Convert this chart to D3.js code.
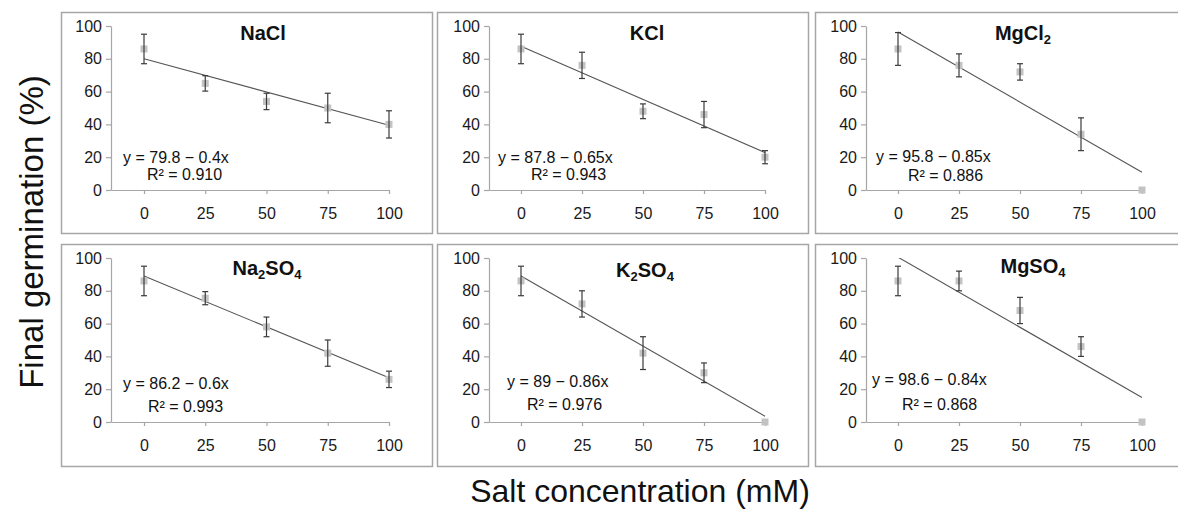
<!DOCTYPE html>
<html><head><meta charset="utf-8">
<script src="https://cdn.jsdelivr.net/npm/d3@7"></script>
<style>
html,body{margin:0;padding:0;background:#fff;}
svg{display:block;font-family:"Liberation Sans",Arial,sans-serif;}
</style></head>
<body><svg id="c" width="1178" height="509"></svg>
<script>
// ---- data ----
const categories = [0, 25, 50, 75, 100];
const yTicks = [0, 20, 40, 60, 80, 100];
const salts = ["NaCl", "KCl", "MgCl2", "Na2SO4", "K2SO4", "MgSO4"];
const meanNaCl   = [86, 65, 54, 50, 40];
const errNaCl    = [9, 4.7, 5, 9, 8.3];
const meanKCl    = [86, 76, 48, 46, 20];
const errKCl     = [9, 8, 4.5, 8, 4];
const meanMgCl2  = [86, 76, 72, 34, 0];
const errMgCl2   = [10, 7, 5, 10, 0];
const meanNa2SO4 = [86, 75.5, 58, 42, 26];
const errNa2SO4  = [9, 4, 6, 8, 5];
const meanK2SO4  = [86, 72, 42, 30, 0];
const errK2SO4   = [9, 8, 10, 6, 0];
const meanMgSO4  = [86, 86, 68, 46, 0];
const errMgSO4   = [9, 6, 8, 6, 0];
// fitted line value at 0 mM and at 100 mM (as drawn)
const trendStart = [80, 87.6, 96.4, 89, 89, 100.5];
const trendEnd   = [39.5, 22.8, 10.8, 27, 3.5, 15];
const equations  = ["y = 79.8 − 0.4x", "y = 87.8 − 0.65x", "y = 95.8 − 0.85x",
                    "y = 86.2 − 0.6x", "y = 89 − 0.86x", "y = 98.6 − 0.84x"];
const r2Labels   = ["R² = 0.910", "R² = 0.943", "R² = 0.886",
                    "R² = 0.993", "R² = 0.976", "R² = 0.868"];
const xTitle = "Salt concentration (mM)";
const yTitle = "Final germination (%)";

const means = [meanNaCl, meanKCl, meanMgCl2, meanNa2SO4, meanK2SO4, meanMgSO4];
const errs  = [errNaCl, errKCl, errMgCl2, errNa2SO4, errK2SO4, errMgSO4];

// ---- layout ----
const colBox = [[61, 432], [437, 808], [815, 1179]];
const rowBox = [[12, 233], [244, 466]];
const colAxisX = [111, 489, 866];   // y-axis position
const colX0 = [144, 521, 898];       // x of 0 mM
const colX100 = [389, 765, 1142];    // x of 100 mM
const rowY0 = [190, 422];
const rowY100 = [26, 258];
const titlePos = [[263, 40], [647, 40], [1023, 40], [267, 275], [645, 277], [1033, 273]];
const eqPos = [[123, 163], [498, 163], [876, 162], [123, 389], [507, 387], [872, 385]];
const r2Pos = [[147, 180], [531, 180], [908, 181], [148, 412], [527, 410], [902, 410]];

const svg = d3.select("#c");
const FONT = '"Liberation Sans",Arial,sans-serif';

salts.forEach((salt, i) => {
  const col = i % 3, row = Math.floor(i / 3);
  const g = svg.append("g");
  // frame
  g.append("rect")
    .attr("x", colBox[col][0] + 0.5).attr("y", rowBox[row][0] + 0.5)
    .attr("width", colBox[col][1] - colBox[col][0]).attr("height", rowBox[row][1] - rowBox[row][0])
    .attr("fill", "#fff").attr("stroke", "#a6a6a6").attr("stroke-width", 1.5);

  const pxPerUnit = (colX100[col] - colX0[col]) / 100;
  const xMin = -(colX0[col] - colAxisX[col]) / pxPerUnit;
  const x = d3.scaleLinear().domain([xMin, 100]).range([colAxisX[col], colX100[col]]);
  const y = d3.scaleLinear().domain([0, 100]).range([rowY0[row], rowY100[row]]);

  // axes
  const ya = g.append("g").attr("transform", `translate(${colAxisX[col]},0)`)
    .call(d3.axisLeft(y).tickValues(yTicks).tickSize(5).tickPadding(4).tickSizeOuter(0));
  const xa = g.append("g").attr("transform", `translate(0,${rowY0[row]})`)
    .call(d3.axisBottom(x).tickValues(categories).tickSize(4).tickPadding(14).tickSizeOuter(0));
  [ya, xa].forEach(a => {
    a.selectAll("path,line").attr("stroke", "#a6a6a6").attr("stroke-width", 1.2);
    a.selectAll("text").attr("fill", "#1a1a1a").style("font-size", "16px").style("font-family", FONT);
  });

  // clip to plot area
  const cid = "clip" + i;
  g.append("clipPath").attr("id", cid).append("rect")
    .attr("x", colAxisX[col]).attr("y", y(100))
    .attr("width", colX100[col] + 20 - colAxisX[col]).attr("height", y(0) - y(100) + 5);

  // trend line
  g.append("line").attr("clip-path", `url(#${cid})`)
    .attr("x1", x(0)).attr("y1", y(trendStart[i]))
    .attr("x2", x(100)).attr("y2", y(trendEnd[i]))
    .attr("stroke", "#555").attr("stroke-width", 1.1);

  const data = categories.map((c, k) => ({c, m: means[i][k], e: errs[i][k]}));
  // markers
  g.selectAll(".pt").data(data).enter().append("rect")
    .attr("x", d => x(d.c) - 3.5).attr("y", d => y(d.m) - 3.5)
    .attr("width", 7).attr("height", 7).attr("fill", "#c3c3c3");
  // error bars
  const eb = g.selectAll(".eb").data(data.filter(d => d.e > 0)).enter().append("g")
    .attr("stroke", "#3a3a3a").attr("stroke-width", 1.2);
  eb.append("line").attr("x1", d => x(d.c)).attr("x2", d => x(d.c))
    .attr("y1", d => y(d.m + d.e)).attr("y2", d => y(d.m - d.e));
  eb.append("line").attr("x1", d => x(d.c) - 3).attr("x2", d => x(d.c) + 3)
    .attr("y1", d => y(d.m + d.e)).attr("y2", d => y(d.m + d.e));
  eb.append("line").attr("x1", d => x(d.c) - 3).attr("x2", d => x(d.c) + 3)
    .attr("y1", d => y(d.m - d.e)).attr("y2", d => y(d.m - d.e));

  // title with subscripts
  const t = g.append("text").attr("x", titlePos[i][0]).attr("y", titlePos[i][1])
    .attr("text-anchor", "middle").style("font-size", "20px").style("font-weight", "bold")
    .style("font-family", FONT).attr("fill", "#111");
  let prevSub = false;
  salt.match(/[A-Za-z]+|\d+/g).forEach(part => {
    if (/\d/.test(part)) {
      t.append("tspan").text(part).style("font-size", "13px").attr("dy", 4);
      prevSub = true;
    } else {
      const ts = t.append("tspan").text(part);
      if (prevSub) ts.attr("dy", -4);
      prevSub = false;
    }
  });

  // equation & R²
  g.append("text").attr("x", eqPos[i][0]).attr("y", eqPos[i][1]).text(equations[i])
    .style("font-size", "16px").style("font-family", FONT).attr("fill", "#111");
  g.append("text").attr("x", r2Pos[i][0]).attr("y", r2Pos[i][1]).text(r2Labels[i])
    .style("font-size", "16px").style("font-family", FONT).attr("fill", "#111");
});

// axis titles
svg.append("text").attr("x", 640).attr("y", 502).attr("text-anchor", "middle")
  .style("font-size", "32px").style("font-family", FONT).attr("fill", "#111").text(xTitle);
svg.append("text").attr("transform", "translate(43,232) rotate(-90)").attr("text-anchor", "middle")
  .style("font-size", "33px").style("font-family", FONT).attr("fill", "#111").text(yTitle);
</script>
</body></html>
